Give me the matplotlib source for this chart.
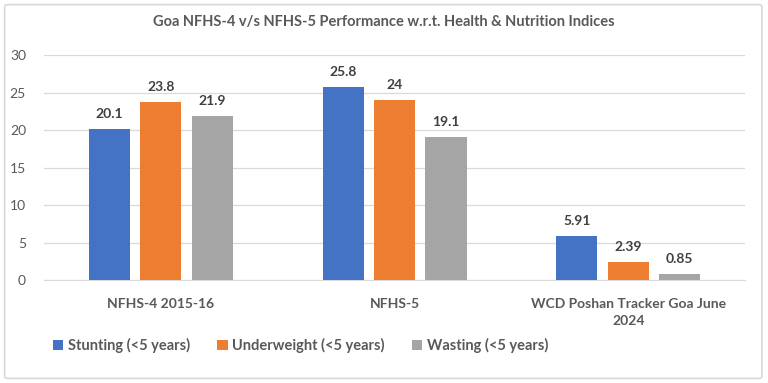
import numpy as np
import matplotlib.pyplot as plt
from matplotlib.patches import FancyBboxPatch

plt.rcParams['font.family'] = ['Lato', 'DejaVu Sans']

categories = ['NFHS-4 2015-16', 'NFHS-5', 'WCD Poshan Tracker Goa June\n2024']
series = ['Stunting (<5 years)', 'Underweight (<5 years)', 'Wasting (<5 years)']
stunting = [20.1, 25.8, 5.91]
underweight = [23.8, 24, 2.39]
wasting = [21.9, 19.1, 0.85]
labels_txt = [['20.1', '25.8', '5.91'], ['23.8', '24', '2.39'], ['21.9', '19.1', '0.85']]
colors = ['#4472C4', '#ED7D31', '#A5A5A5']
yticks = [0, 5, 10, 15, 20, 25, 30]

fig = plt.figure(figsize=(7.68, 3.83), dpi=100)
ax = fig.add_axes([0.0573, 0.269, 0.913, 0.587])

# marco exterior gris claro
fig.patches.append(FancyBboxPatch((0.006, 0.012), 0.986, 0.976, boxstyle='round,pad=0,rounding_size=0.005',
                                  transform=fig.transFigure, fc='none', ec='#D9D9D9', lw=1.2))

x = np.arange(len(categories))
w = 0.176
off = 0.22
for i, (vals, c) in enumerate(zip([stunting, underweight, wasting], colors)):
    pos = x + (i - 1) * off
    ax.bar(pos, vals, width=w, color=c, label=series[i], zorder=3)
    for p, v, t in zip(pos, vals, labels_txt[i]):
        ax.text(p, v + 1.2, t, ha='center', va='bottom', fontsize=10, fontweight='bold', color='#404040')

ax.set_xlim(-0.5, 2.5)
ax.set_ylim(0, 30)
ax.set_yticks(yticks)
ax.set_xticks(x)
ax.set_xticklabels(categories, fontsize=10, fontweight='bold', color='#595959', linespacing=1.5)
ax.tick_params(axis='y', length=0, pad=13, labelsize=10, labelcolor='#595959')
ax.tick_params(axis='x', length=0, pad=13)
ax.grid(axis='y', color='#D9D9D9', lw=0.9, zorder=0)
for s in ['top', 'right', 'left']:
    ax.spines[s].set_visible(False)
ax.spines['bottom'].set_color('#D9D9D9')

fig.text(0.5, 0.943, 'Goa NFHS-4 v/s NFHS-5 Performance w.r.t. Health & Nutrition Indices',
         ha='center', va='center', fontsize=10.5, fontweight='bold', color='#595959')

fig.legend(loc='center left', bbox_to_anchor=(0.052, 0.097), ncol=3, frameon=False,
           handlelength=0.7, handleheight=0.7, handletextpad=0.3,
           columnspacing=1.9, labelcolor='#595959',
           prop={'weight': 'bold', 'size': 10.5})

fig.savefig('out.png', dpi=100)
